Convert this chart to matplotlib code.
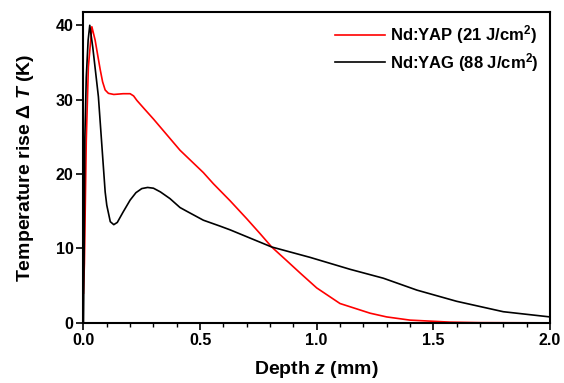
import numpy as np
import matplotlib
matplotlib.use('Agg')
import matplotlib.pyplot as plt
from matplotlib.ticker import MultipleLocator

plt.rcParams['font.family'] = ['Liberation Sans', 'DejaVu Sans']
plt.rcParams['mathtext.fontset'] = 'custom'
plt.rcParams['mathtext.it'] = 'Liberation Sans:italic:bold'
plt.rcParams['mathtext.rm'] = 'Liberation Sans:bold'

# Nd:YAP (21 J/cm2)
yap_z = [0.0, 0.004, 0.007, 0.012, 0.021, 0.036, 0.05, 0.062, 0.072, 0.082,
         0.093, 0.107, 0.13, 0.17, 0.2, 0.215, 0.229, 0.26, 0.3, 0.414,
         0.514, 0.557, 0.629, 0.7, 0.757, 0.807, 0.87, 0.929, 1.0, 1.1,
         1.229, 1.3, 1.4, 1.571, 1.7, 2.0]
yap_dt = [4.0, 8.0, 14.2, 24.5, 34.4, 39.8, 38.0, 35.8, 34.0, 32.4,
          31.3, 30.85, 30.7, 30.8, 30.8, 30.5, 29.9, 28.8, 27.4, 23.2,
          20.2, 18.7, 16.4, 14.0, 12.0, 10.2, 8.4, 6.7, 4.7, 2.6,
          1.3, 0.8, 0.37, 0.1, 0.03, 0.0]

# Nd:YAG (88 J/cm2)
yag_z = [0.0, 0.003, 0.006, 0.012, 0.02, 0.027, 0.04, 0.064, 0.093, 0.1,
         0.115, 0.13, 0.145, 0.17, 0.2, 0.225, 0.25, 0.275, 0.3, 0.33,
         0.371, 0.414, 0.443, 0.514, 0.586, 0.629, 0.714, 0.807, 0.972, 1.143,
         1.286, 1.43, 1.6, 1.8, 2.0]
yag_dt = [0.0, 10.0, 25.0, 33.0, 38.0, 40.0, 37.0, 30.4, 17.6, 15.8,
          13.6, 13.2, 13.5, 14.9, 16.5, 17.5, 18.05, 18.2, 18.1, 17.6,
          16.7, 15.5, 15.0, 13.8, 13.0, 12.5, 11.4, 10.2, 8.8, 7.2,
          6.0, 4.4, 2.9, 1.5, 0.8]

fig = plt.figure(figsize=(5.64, 3.83), dpi=100)
ax = fig.add_axes([0.148, 0.157, 0.827, 0.812])

ax.plot(yap_z, yap_dt, color='#ff0000', lw=1.2, label='Nd:YAP (21 J/cm$^2$)')
ax.plot(yag_z, yag_dt, color='black', lw=1.2, label='Nd:YAG (88 J/cm$^2$)')

ax.set_xlim(0, 2.0)
ax.set_ylim(0, 41.8)
ax.xaxis.set_major_locator(MultipleLocator(0.5))
ax.xaxis.set_minor_locator(MultipleLocator(0.1))
ax.yaxis.set_major_locator(MultipleLocator(10))
ax.tick_params(which='major', direction='out', length=5, width=1.2,
               labelsize=11.5, pad=2)
ax.tick_params(which='minor', direction='out', length=3, width=1.0)
for lab in ax.get_xticklabels() + ax.get_yticklabels():
    lab.set_fontweight('bold')
for sp in ax.spines.values():
    sp.set_linewidth(1.5)

ax.set_xlabel('Depth $\\mathit{z}$ (mm)', fontsize=14, fontweight='bold', labelpad=8)
ax.set_ylabel('Temperature rise Δ $\\mathit{T}$ (K)', fontsize=14, fontweight='bold', labelpad=14)

leg = ax.legend(loc='upper right', frameon=False, fontsize=12, handlelength=3.0,
                handletextpad=0.3, borderaxespad=0.3, labelspacing=0.25)
for t in leg.get_texts():
    t.set_fontweight('bold')

fig.savefig('out.png', dpi=100)
